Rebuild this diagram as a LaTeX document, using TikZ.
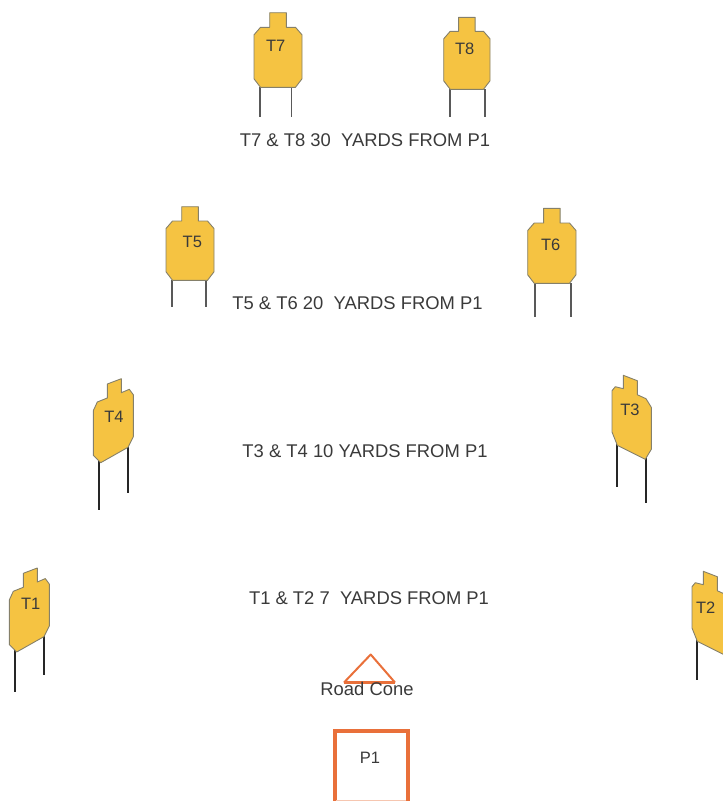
\documentclass[tikz,border=0pt]{standalone}
\usepackage{fontspec}
\setmainfont{Liberation Sans}
\definecolor{targetyellow}{HTML}{F5C342}
\definecolor{targetedge}{HTML}{85806A}
\definecolor{coneorange}{HTML}{E9703A}
\definecolor{labelgray}{HTML}{3A3A3A}
\tikzset{
  target body/.style={
    fill=targetyellow,
    draw=targetedge,
    line width=0.9pt,
    line join=round
  },
  front leg/.style={
    draw=black!65,
    line width=1.8pt
  },
  side leg/.style={
    draw=black!85,
    line width=2.4pt
  },
  target label/.style={
    font=\fontsize{16.5}{18}\selectfont,
    text=labelgray,
    inner sep=0pt
  },
  range label/.style={
    font=\fontsize{18.4}{20}\selectfont,
    text=labelgray,
    inner sep=0pt
  },
  cone line/.style={
    draw=coneorange,
    line join=round
  }
}
\begin{document}
\begin{tikzpicture}[x=1pt, y=-1pt]
    \useasboundingbox (0,0) rectangle (723,801);
    \clip (0,0) rectangle (723,801);

    % targets seen from the front
    \foreach \tname/\xl/\xr/\ytab/\ytop/\ybot/\legl/\legr/\yleg/\xlbl/\ylbl in {
        T7/254/302/12.7/27.3/87.3/260/291.5/117/275.7/46,
        T8/443.7/490/17.3/31.3/89.3/450/485/117/464.7/49.3,
        T5/166/214/206.7/221/280.3/171.7/206/306.7/192.3/242.3,
        T6/527.7/576/208.3/223/283.3/534.7/570.7/317/550.7/245} {
      \pgfmathsetmacro{\xm}{(\xl+\xr)/2}
      \draw[front leg] (\legl, \ybot) -- (\legl, \yleg);
      \draw[front leg] (\legr, \ybot) -- (\legr, \yleg);
      \draw[target body] (\xm-8.3, \ytab) -- (\xm+8.3, \ytab) -- (\xm+8.3, \ytop)
        -- (\xr-6.5, \ytop) -- (\xr, \ytop+7.5) -- (\xr, \ybot-8.5) -- (\xr-6.5, \ybot)
        -- (\xl+6.5, \ybot) -- (\xl, \ybot-8.5) -- (\xl, \ytop+7.5) -- (\xl+6.5, \ytop)
        -- (\xm-8.3, \ytop) -- cycle;
      \node[target label] (\tname) at (\xlbl, \ylbl) {\tname};
    }

    % targets turned to the right
    \foreach \tname/\dx/\dy/\lega/\legb/\lx/\ly in {T4/0/0/510/493/114/416.7, T1/-84/189.3/502.7/485.7/30.7/604} {
      \begin{scope}[shift={(\dx,\dy)}]
        \draw[side leg] (98.7, 460) -- (98.7, \lega);
        \draw[side leg] (128, 445) -- (128, \legb);
        \draw[target body] (107.3,384) -- (121.3,378.7) -- (121.3,392.7) -- (129.3,389.3)
          -- (133.3,394.7) -- (133.3,436.7) -- (128,447.3) -- (100.7,462.7) -- (93.3,455.3)
          -- (93.3,410.7) -- (97.3,402) -- (107.3,398) -- cycle;
      \end{scope}
      \node[target label] (\tname) at (\lx, \ly) {\tname};
    }

    % targets turned to the left
    \foreach \tname/\dx/\dy/\lega/\legb/\lx/\ly in {T3/0/0/487/503/630/410, T2/80/196/484/500/705.7/608} {
      \begin{scope}[shift={(\dx,\dy)}]
        \draw[side leg] (616.7, 441) -- (616.7, \lega);
        \draw[side leg] (646, 456) -- (646, \legb);
        \draw[target body] (623.3,375.3) -- (637.3,380.7) -- (637.3,394.7) -- (646,398.7)
          -- (651.3,407.3) -- (651.3,449.3) -- (645.3,459.3) -- (617.3,445.3) -- (612,432)
          -- (612,390.7) -- (615.3,386.7) -- (623.3,388.7) -- cycle;
      \end{scope}
      \node[target label] (\tname) at (\lx, \ly) {\tname};
    }

    % distance captions
    \node[range label] (range78) at (365, 140) {T7 \& T8 30\ \ YARDS FROM P1};
    \node[range label] (range56) at (357.5, 303) {T5 \& T6 20\ \ YARDS FROM P1};
    \node[range label] (range34) at (365, 451) {T3 \& T4 10 YARDS FROM P1};
    \node[range label] (range12) at (369, 598) {T1 \& T2 7\ \ YARDS FROM P1};

    % road cone
    \draw[cone line, line width=2pt] (344, 682.5) -- (370.7, 654.5) -- (395, 682.5);
    \draw[cone line, line width=3.2pt] (344, 682.5) -- (395, 682.5);
    \node[range label] (cone) at (367, 689) {Road Cone};

    % shooting box
    \draw[draw=coneorange, line width=4pt] (334.6, 802.5) -- (334.6, 731.2) -- (408, 731.2) -- (408, 802.5);
    \draw[draw=coneorange!40, line width=1pt] (336, 800.5) -- (406, 800.5);
    \node[target label] (P1) at (370, 758) {P1};
\end{tikzpicture}
\end{document}
